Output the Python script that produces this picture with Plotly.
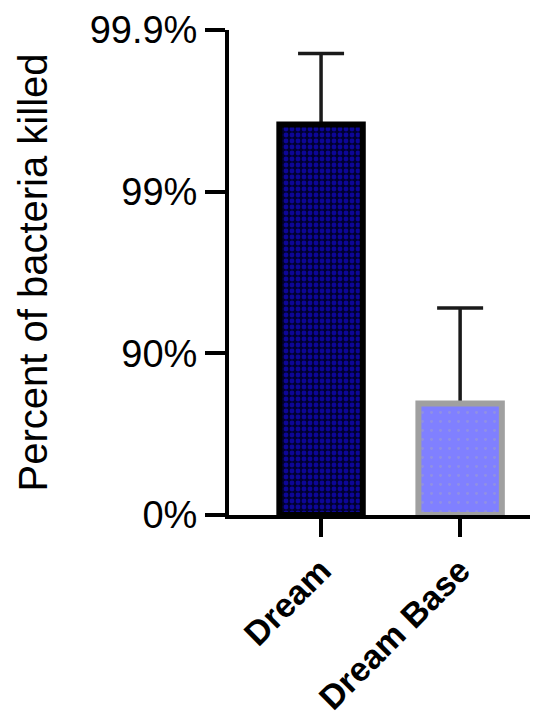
import plotly.graph_objects as go

categories = ["Dream", "Dream Base"]
log_reduction = [2.415, 0.69]
err_plus = [0.44, 0.59]
tick_vals = [0, 1, 2, 3]
tick_labels = ["0%", "90%", "99%", "99.9%"]

fig = go.Figure()
# error bars first so the bars drawn afterwards hide the lower caps
fig.add_trace(go.Bar(
    x=categories, y=log_reduction, width=0.6,
    marker=dict(color="rgba(0,0,0,0)", line=dict(width=0)),
    error_y=dict(type="data", symmetric=False, array=err_plus, arrayminus=[0, 0],
                 color="#1a1a1a", thickness=3.5, width=23),
    showlegend=False, hoverinfo="skip"))
fig.add_trace(go.Bar(
    x=[categories[0]], y=[log_reduction[0]], width=0.6,
    marker=dict(color="#000030", line=dict(color="black", width=6),
                pattern=dict(shape=".", fgcolor="#1a0cff", bgcolor="#000030",
                             size=6, solidity=0.5, fillmode="overlay")),
    showlegend=False))
fig.add_trace(go.Bar(
    x=[categories[1]], y=[log_reduction[1]], width=0.6,
    marker=dict(color="#8080ff", line=dict(color="#a0a0a0", width=6),
                pattern=dict(shape=".", fgcolor="#a0a0c8", bgcolor="#8080ff",
                             size=9, solidity=0.08, fillmode="overlay")),
    showlegend=False))

fig.update_layout(
    width=538, height=717,
    margin=dict(l=221, r=8, t=22, b=208),
    paper_bgcolor="white", plot_bgcolor="white",
    font=dict(family="Liberation Sans, Arial, sans-serif", color="black"),
    barmode="overlay",
)
fig.update_xaxes(
    range=[-0.662, 1.56], showline=True, linecolor="black", linewidth=4,
    ticks="outside", ticklen=18, tickwidth=4, tickcolor="black",
    tickangle=-45, tickfont=dict(size=34, weight="bold"), showgrid=False,
)
fig.update_yaxes(
    range=[0, 3], tickvals=tick_vals, ticktext=tick_labels,
    showline=True, linecolor="black", linewidth=4,
    ticks="outside", ticklen=20, tickwidth=4, tickcolor="black",
    tickfont=dict(size=38), showgrid=False, zeroline=False,
    title=dict(text="Percent of bacteria killed", font=dict(size=40), standoff=31),
    automargin=False,
)

fig.write_html("out.html")
